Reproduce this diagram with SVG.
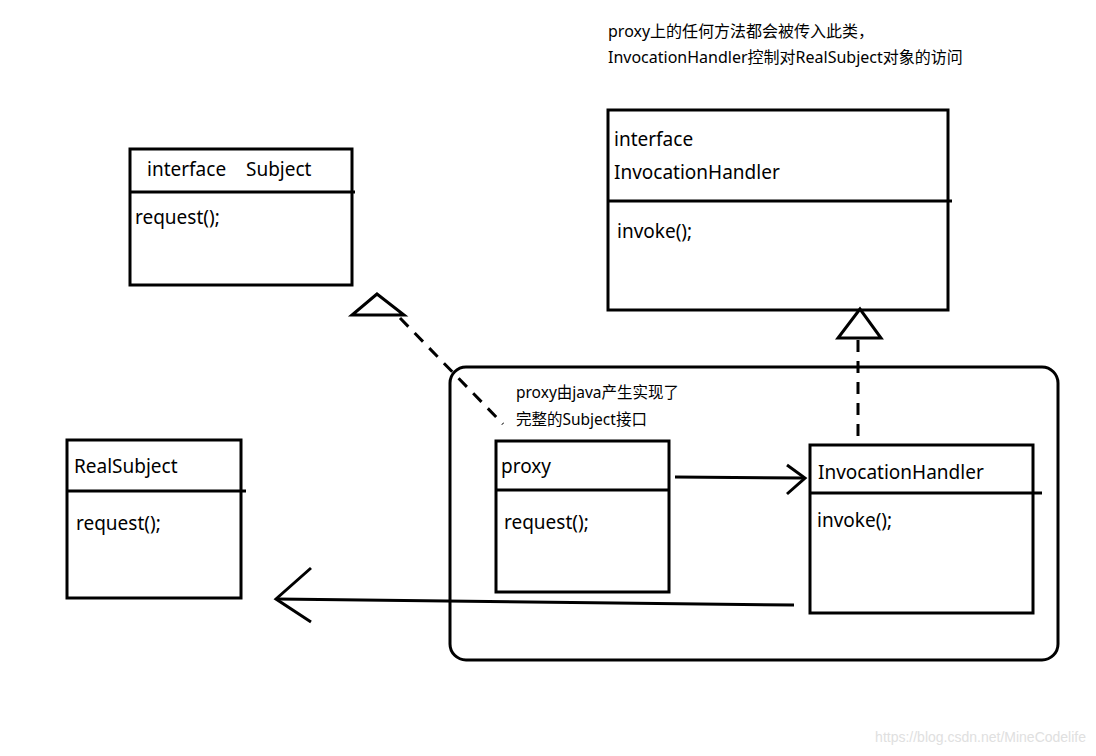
<svg xmlns="http://www.w3.org/2000/svg" width="1096" height="756" viewBox="0 0 1096 756">
<style>
.box{fill:none;stroke:#000;stroke-width:3}
.ln{fill:none;stroke:#000;stroke-width:3}
.dash{fill:none;stroke:#000;stroke-width:3;stroke-dasharray:12 9}
.t{font-family:"Noto Sans","Noto Sans CJK SC",sans-serif;font-size:19px;fill:#000}
.s{font-family:"Noto Sans","Noto Sans CJK SC",sans-serif;font-size:15.5px;fill:#000}
.n{font-family:"Noto Sans","Noto Sans CJK SC",sans-serif;font-size:16px;fill:#000}
.w{font-family:"Liberation Sans",sans-serif;font-size:14px;fill:#e0e0e0}
</style>
<rect width="1096" height="756" fill="#fff"/>
<g id="note-top">
<text class="n" x="608" y="37">proxy上的任何方法都会被传入此类，</text>
<text class="n" x="608" y="63">InvocationHandler控制对RealSubject对象的访问</text>
</g>
<g id="subject">
<rect class="box" x="130" y="149" width="222" height="136"/>
<line class="ln" x1="130" y1="192" x2="355" y2="192"/>
<text class="t" x="147" y="176">interface</text>
<text class="t" x="246" y="176">Subject</text>
<text class="t" x="135" y="224">request();</text>
</g>
<g id="ih-interface">
<rect class="box" x="608" y="110" width="340" height="200"/>
<line class="ln" x1="608" y1="201" x2="952" y2="201"/>
<text class="t" x="614" y="146">interface</text>
<text class="t" x="614" y="179">InvocationHandler</text>
<text class="t" x="617" y="238">invoke();</text>
</g>
<g id="container">
<rect class="box" x="450" y="367" width="608" height="293" rx="16"/>
<text class="s" x="516" y="398">proxy由java产生实现了</text>
<text class="s" x="516" y="425">完整的Subject接口</text>
</g>
<g id="proxy">
<rect class="box" x="496" y="441" width="173" height="151"/>
<line class="ln" x1="496" y1="490" x2="669" y2="490"/>
<text class="t" x="501" y="473">proxy</text>
<text class="t" x="504" y="529">request();</text>
</g>
<g id="invocation-handler">
<rect class="box" x="810" y="445" width="223" height="168"/>
<line class="ln" x1="810" y1="493" x2="1042" y2="493"/>
<text class="t" x="818" y="479">InvocationHandler</text>
<text class="t" x="817" y="527">invoke();</text>
</g>
<g id="real-subject">
<rect class="box" x="67" y="440" width="174" height="158"/>
<line class="ln" x1="67" y1="491" x2="246" y2="491"/>
<text class="t" x="74" y="473">RealSubject</text>
<text class="t" x="76" y="530">request();</text>
</g>
<g id="connectors">
<line class="dash" x1="400" y1="318" x2="503" y2="424"/>
<polygon points="377,294 352,315 404,315" fill="#fff" stroke="#000" stroke-width="3"/>
<line class="dash" x1="858" y1="340" x2="858" y2="440"/>
<polygon points="860,309 838,338 881,338" fill="#fff" stroke="#000" stroke-width="3"/>
<line class="ln" x1="675" y1="477" x2="804" y2="478"/>
<polyline class="ln" points="787,465 805,478 787,494"/>
<line class="ln" x1="794" y1="605" x2="277" y2="599"/>
<polyline class="ln" points="311,568 276,599 311,622"/>
</g>
<text class="w" x="1086" y="742" text-anchor="end">https://blog.csdn.net/MineCodelife</text>
</svg>
